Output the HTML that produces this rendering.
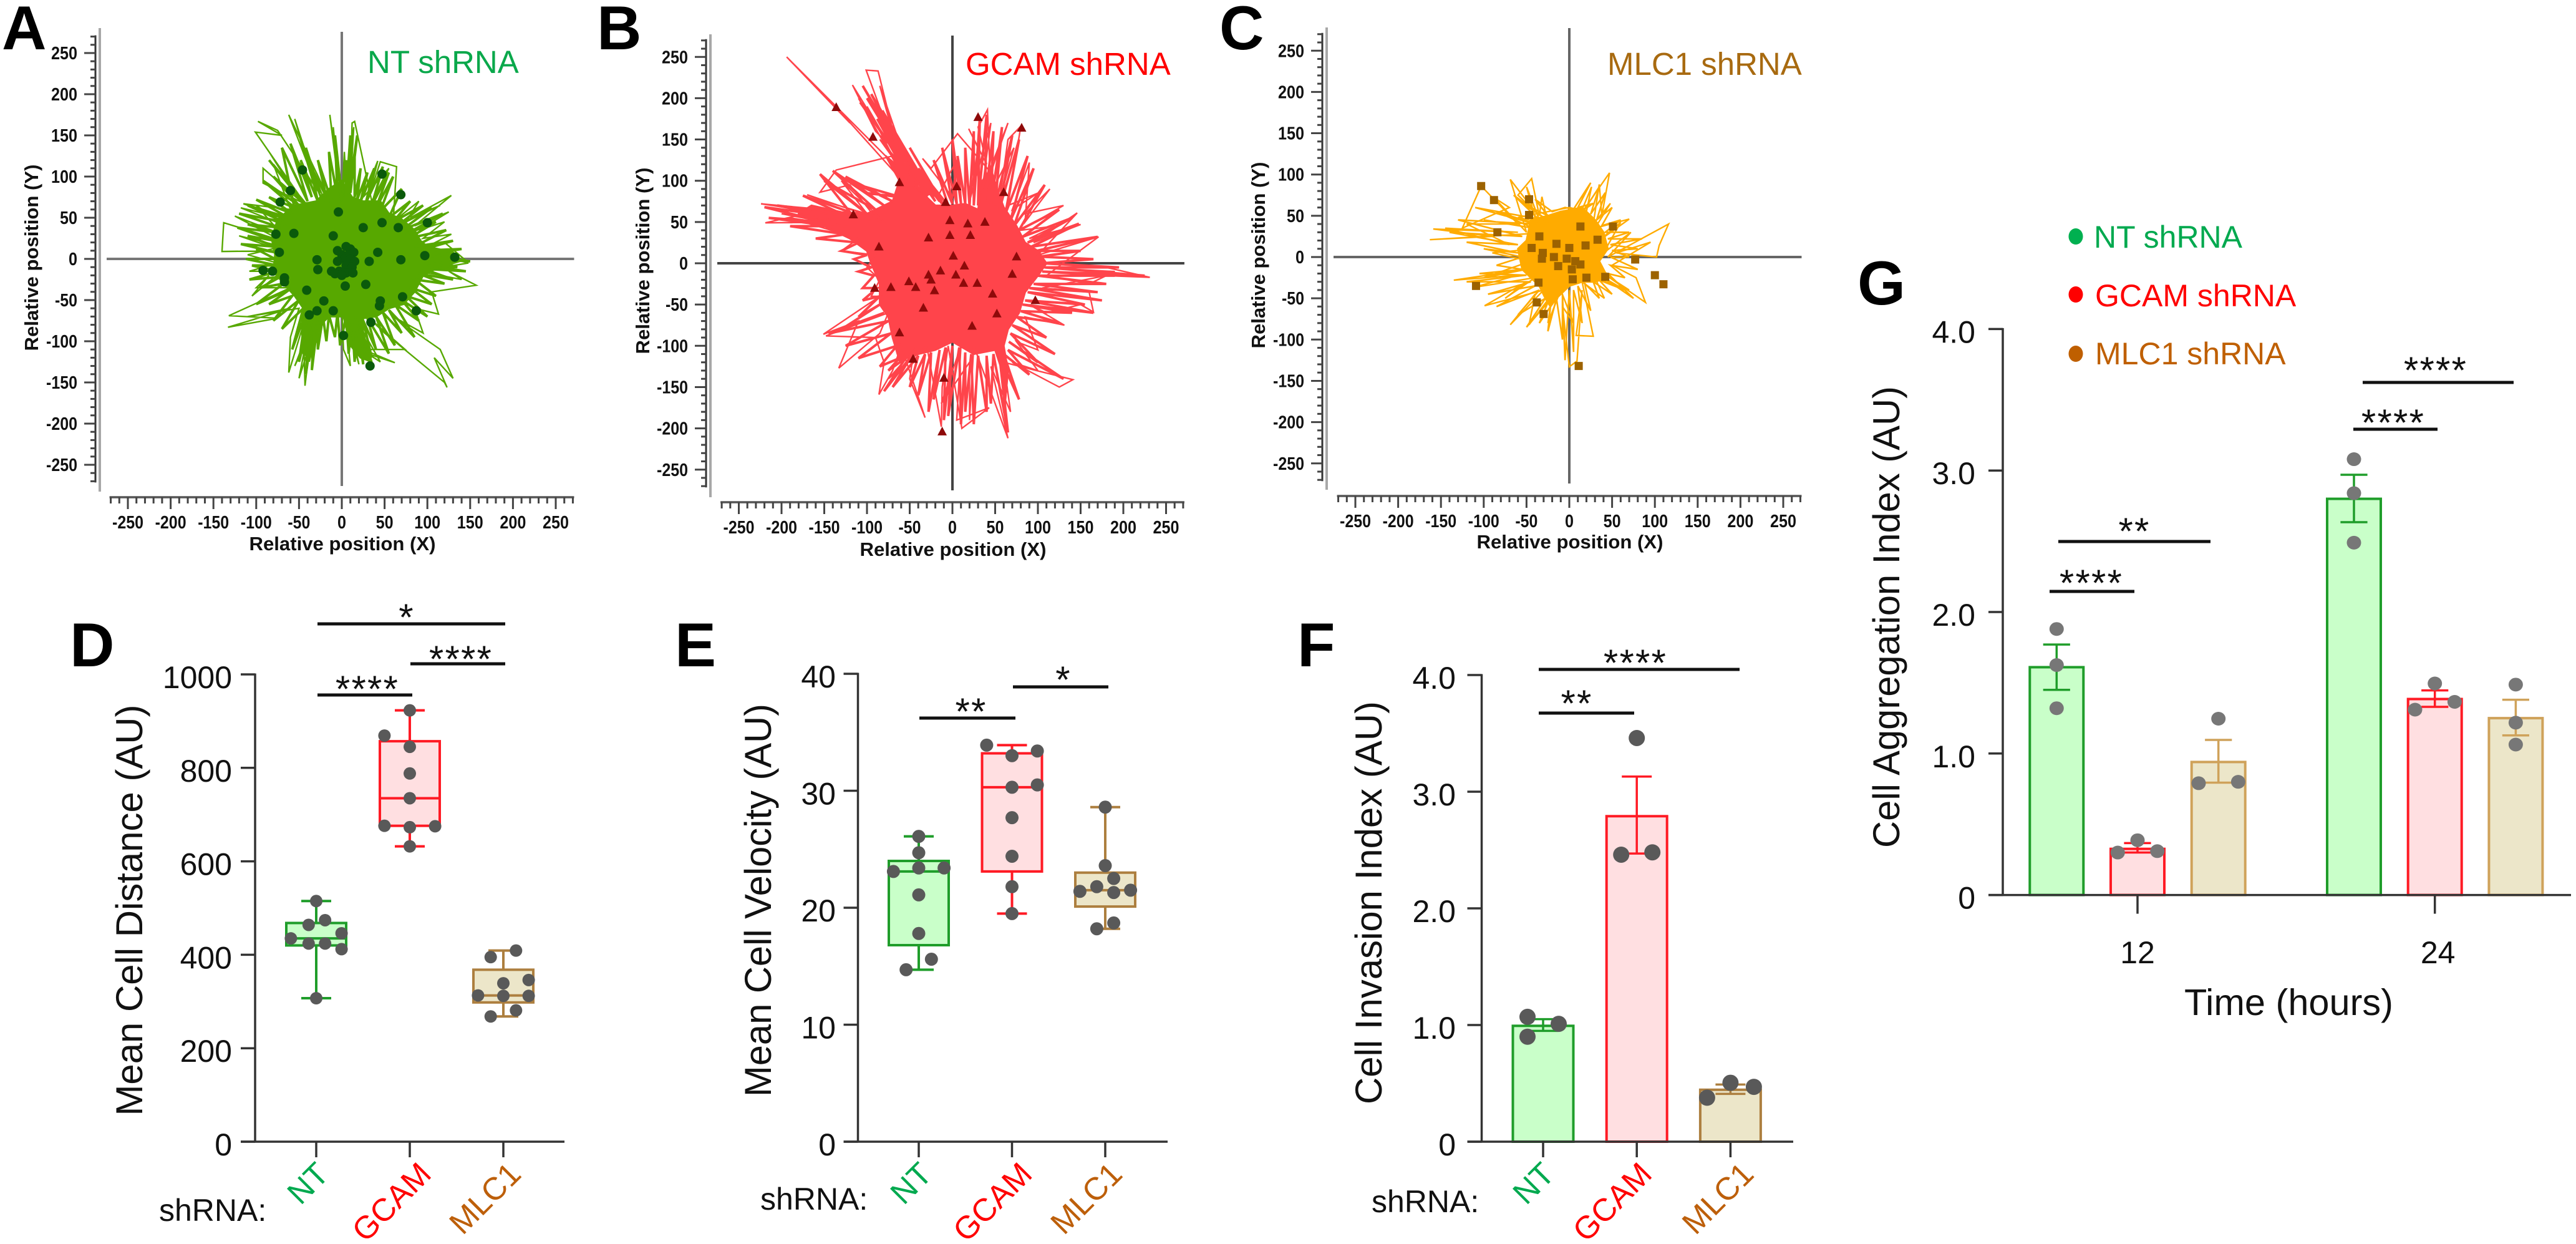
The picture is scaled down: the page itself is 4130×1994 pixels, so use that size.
<!DOCTYPE html>
<html lang="en">
<head>
<meta charset="utf-8">
<title>shRNA cell migration panels</title>
<style>
html,body{margin:0;padding:0;background:#fff;}
svg{display:block;}
text{font-family:"Liberation Sans",Arial,sans-serif;fill:#111;}
.panel-letter{font-size:99px;font-weight:700;fill:#000;}
.sp-title{font-size:31px;font-weight:700;}
.sp-label{font-size:51px;}
.ax-title{font-size:60px;}
.sh{font-size:50px;}
</style>
</head>
<body>
<svg id="fig" xmlns="http://www.w3.org/2000/svg" width="4130" height="1994" viewBox="0 0 4130 1994">
<rect x="0" y="0" width="4130" height="1994" fill="#fff"/>
<text class="panel-letter" x="3" y="79">A</text>
<text class="panel-letter" x="957" y="79">B</text>
<text class="panel-letter" x="1955" y="79">C</text>
<text class="panel-letter" x="112" y="1068">D</text>
<text class="panel-letter" x="1082" y="1068">E</text>
<text class="panel-letter" x="2080" y="1068">F</text>
<text class="panel-letter" x="2978" y="488">G</text>

<g id="layer"></g>

<text class="sp-label" x="589" y="117" style="fill:#0aa84b">NT shRNA</text>
<text class="sp-label" x="1548" y="120" style="fill:#ff0000">GCAM shRNA</text>
<text class="sp-label" x="2577" y="120" style="fill:#a86a10">MLC1 shRNA</text>

<text class="sp-title" x="549" y="882" text-anchor="middle" textLength="299" lengthAdjust="spacingAndGlyphs">Relative position (X)</text>
<text class="sp-title" x="1528" y="891" text-anchor="middle" textLength="299" lengthAdjust="spacingAndGlyphs">Relative position (X)</text>
<text class="sp-title" x="2517" y="879" text-anchor="middle" textLength="299" lengthAdjust="spacingAndGlyphs">Relative position (X)</text>
<text class="sp-title" transform="translate(61,413) rotate(-90)" text-anchor="middle" textLength="299" lengthAdjust="spacingAndGlyphs">Relative position (Y)</text>
<text class="sp-title" transform="translate(1041,418) rotate(-90)" text-anchor="middle" textLength="299" lengthAdjust="spacingAndGlyphs">Relative position (Y)</text>
<text class="sp-title" transform="translate(2028,409) rotate(-90)" text-anchor="middle" textLength="299" lengthAdjust="spacingAndGlyphs">Relative position (Y)</text>

<text class="ax-title" transform="translate(228,1459) rotate(-90)" text-anchor="middle" textLength="659" lengthAdjust="spacingAndGlyphs">Mean Cell Distance (AU)</text>
<text class="ax-title" transform="translate(1236,1443) rotate(-90)" text-anchor="middle" textLength="630" lengthAdjust="spacingAndGlyphs">Mean Cell Velocity (AU)</text>
<text class="ax-title" transform="translate(2215,1447) rotate(-90)" text-anchor="middle" textLength="646" lengthAdjust="spacingAndGlyphs">Cell Invasion Index (AU)</text>
<text class="ax-title" transform="translate(3045,989) rotate(-90)" text-anchor="middle" textLength="740" lengthAdjust="spacingAndGlyphs">Cell Aggregation Index (AU)</text>
<text class="ax-title" x="3502" y="1627" textLength="335" lengthAdjust="spacingAndGlyphs" style="font-size:59px">Time (hours)</text>

<text class="sh" x="255" y="1957">shRNA:</text>
<text class="sh" x="1219" y="1939">shRNA:</text>
<text class="sh" x="2199" y="1943">shRNA:</text>

<g>
<ellipse cx="3328" cy="379" rx="11.5" ry="13" fill="#00b050"/>
<text x="3357" y="397" style="font-size:50px;fill:#00a94f">NT shRNA</text>
<ellipse cx="3328" cy="472" rx="11.5" ry="13" fill="#ff0000"/>
<text x="3359" y="491" style="font-size:50px;fill:#ff0000">GCAM shRNA</text>
<ellipse cx="3328" cy="567" rx="11.5" ry="13" fill="#bf5f00"/>
<text x="3359" y="584" style="font-size:50px;fill:#bf5f00">MLC1 shRNA</text>
</g>
</svg>

<script>
/* ---------- Spider plot data (relative position units) ---------- */
const spiderTicks = [-250,-200,-150,-100,-50,0,50,100,150,200,250];
const spiderMinorTicks = [-270,-260,-240,-230,-220,-210,-190,-180,-170,-160,-140,-130,-120,-110,-90,-80,-70,-60,-40,-30,-20,-10,10,20,30,40,60,70,80,90,110,120,130,140,160,170,180,190,210,220,230,240,260,270];

const ntCore = [[0,95],[12,75],[25,70],[45,70],[55,55],[70,48],[85,35],[92,22],[100,15],[130,8],[140,-2],[110,-12],[95,-20],[85,-40],[72,-55],[55,-60],[40,-70],[25,-72],[25,-90],[35,-125],[22,-120],[10,-105],[2,-70],[-15,-70],[-25,-80],[-30,-100],[-38,-120],[-45,-115],[-47,-80],[-45,-60],[-55,-45],[-68,-30],[-80,-15],[-78,5],[-82,25],[-75,48],[-55,65],[-30,70],[-15,85]];
const ntTrack = [[0,40],[-62,175],[-25,75],[-55,170],[-30,80],[-50,150],[-20,70],[-75,156],[-98,167],[-70,150],[-101,154],[-45,70],[-95,145],[-40,62],[-85,130],[-50,72],[-92,110],[-92,92],[-40,65],[-80,115],[-60,60],[-115,67],[-70,50],[-118,62],[-65,40],[-100,65],[-70,30],[-125,52],[-70,22],[-138,44],[-140,9],[-70,10],[-120,28],[-70,15],[-110,5],[-75,-5],[-108,-15],[-70,-15],[-105,-45],[-85,-20],[-100,-35],[-60,-35],[-132,-69],[-75,-72],[-133,-83],[-60,-60],[-110,-70],[-50,-60],[-60,-95],[-62,-138],[-45,-80],[-43,-154],[-35,-85],[-55,-130],[-40,-90],[-50,-145],[-30,-80],[-38,-125],[-25,-70],[0,-60],[2,-110],[10,-130],[5,-75],[20,-128],[10,-80],[35,-130],[15,-70],[45,-125],[30,-115],[62,-126],[25,-110],[74,-110],[30,-70],[50,-90],[120,-150],[123,-156],[108,-120],[130,-145],[115,-110],[60,-70],[95,-90],[85,-60],[113,-67],[105,-40],[157,-32],[125,-15],[140,-25],[90,-15],[148,-5],[110,5],[145,-2],[120,20],[100,15],[128,30],[95,25],[120,45],[90,35],[125,57],[85,40],[128,77],[80,50],[115,65],[75,45],[90,70],[60,45],[64,112],[45,118],[30,70],[42,119],[25,75],[55,110],[35,70],[15,167],[12,165],[10,90],[14,160],[5,90],[3,130],[0,70],[-14,175],[-5,100],[-10,160],[0,60]];
const ntTrackDense = [[-55,60],[-70,135],[-40,70],[-60,140],[-35,75],[-48,120],[-28,70],[-42,135],[-25,80],[-35,110],[-18,75],[-28,120],[-12,70],[-15,130],[-5,75],[-8,150],[0,75],[5,120],[5,75],[10,150],[8,80],[18,150],[10,80],[15,125],[15,75],[22,110],[18,72],[30,105],[22,70],[38,110],[28,68],[48,112],[35,65],[55,105],[40,62],[60,100],[45,58],[70,85],[55,50],[80,70],[60,45],[95,65],[65,40],[105,62],[70,35],[118,55],[75,30],[110,45],[78,25],[122,35],[85,15],[130,22],[90,10],[140,12],[95,5],[150,-3],[100,0],[135,-10],[100,-8],[145,-15],[95,-12],[130,-25],[90,-18],[120,-30],[85,-25],[110,-45],[80,-35],[105,-55],[75,-45],[100,-70],[70,-50],[90,-75],[62,-55],[85,-95],[55,-62],[70,-90],[48,-65],[62,-105],[40,-70],[55,-115],[30,-72],[40,-110],[25,-75],[35,-120],[22,-85],[25,-128],[18,-80],[15,-125],[12,-75],[8,-115],[5,-70],[-2,-105],[-5,-65],[-8,-95],[-15,-68],[-18,-100],[-22,-70],[-28,-110],[-28,-75],[-35,-135],[-32,-70],[-42,-140],[-38,-75],[-50,-125],[-42,-65],[-58,-110],[-45,-60],[-70,-85],[-50,-50],[-80,-75],[-58,-45],[-85,-55],[-62,-38],[-100,-55],[-68,-30],[-95,-35],[-72,-22],[-108,-25],[-75,-15],[-105,-8],[-75,-8],[-112,0],[-78,0],[-100,12],[-78,8],[-118,18],[-78,15],[-110,28],[-78,22],[-122,38],[-75,32],[-110,42],[-72,38],[-120,55],[-68,45],[-110,65],[-62,50],[-100,72],[-58,55],[-85,75],[-55,62],[-92,95],[-50,65],[-80,100],[-45,68],[-85,120]];
const ntEnds = [[-46,108],[47,103],[69,78],[-60,83],[-72,69],[-4,57],[100,44],[47,44],[66,38],[25,38],[-77,30],[-56,31],[-10,28],[-73,8],[42,8],[97,4],[132,2],[69,-1],[-29,-1],[32,-3],[-92,-14],[-81,-15],[-28,-13],[-67,-23],[-67,-28],[28,-31],[-41,-38],[4,-33],[71,-46],[45,-51],[-21,-51],[-38,-68],[-29,-63],[-10,-63],[34,-77],[87,-63],[2,-93],[33,-130],[44,-57],[5,15],[10,12],[-5,10],[0,5],[8,5],[14,8],[3,0],[10,0],[-5,-3],[15,-3],[5,-8],[12,-10],[-12,-15],[-3,-15],[5,-17],[13,-17],[-8,-18],[0,-20]];

const gcamCore = [[-40,90],[-20,70],[0,70],[15,72],[30,65],[35,100],[45,115],[52,90],[60,68],[75,45],[85,25],[100,15],[110,0],[100,-15],[85,-35],[78,-60],[65,-80],[60,-100],[65,-130],[62,-165],[58,-130],[50,-105],[25,-110],[0,-95],[-20,-105],[-40,-110],[-62,-118],[-70,-90],[-75,-65],[-85,-50],[-85,-25],[-95,0],[-100,15],[-120,30],[-150,45],[-180,60],[-165,70],[-130,62],[-100,60],[-70,75],[-62,100],[-78,130],[-55,110]];
const gcamTrack = [[-30,80],[-194,250],[-120,170],[-136,189],[-50,90],[-101,234],[-87,233],[-60,120],[-85,215],[-45,95],[-117,216],[-90,160],[-70,140],[-110,200],[-55,100],[-100,190],[-50,100],[-95,170],[-40,85],[-85,150],[-35,90],[-80,170],[-30,80],[-70,130],[-136,113],[-155,86],[-120,95],[-90,55],[-170,83],[-150,75],[-100,60],[-130,100],[-80,50],[-224,72],[-150,65],[-219,49],[-120,50],[-200,60],[-100,40],[-190,55],[-110,30],[-130,15],[-90,10],[-100,-5],[-85,-20],[-95,-40],[-85,-40],[-151,-86],[-110,-70],[-133,-127],[-85,-85],[-75,-60],[-148,-88],[-90,-90],[-80,-120],[-86,-159],[-70,-130],[-60,-100],[-32,-187],[-50,-140],[-45,-105],[-75,-140],[-30,-100],[-13,-198],[-12,-150],[-5,-100],[11,-200],[43,-175],[5,-190],[10,-100],[-13,-170],[20,-120],[20,-190],[25,-100],[65,-212],[45,-125],[68,-180],[60,-120],[141,-141],[125,-150],[70,-120],[100,-130],[75,-95],[100,-105],[85,-65],[131,-75],[90,-50],[110,-60],[150,-50],[165,-59],[160,-35],[105,-30],[180,-15],[231,-17],[180,-5],[100,-5],[190,-10],[160,-25],[110,-15],[171,32],[100,10],[146,61],[95,25],[150,47],[90,30],[120,45],[80,40],[130,70],[85,60],[114,90],[85,50],[90,122],[70,65],[100,85],[65,70],[80,166],[65,150],[55,75],[72,140],[45,85],[41,186],[30,165],[40,120],[19,163],[30,140],[20,75],[45,170],[35,90],[65,170],[45,110],[6,157],[-25,115],[-35,127],[0,80],[5,125],[-15,85],[-40,95]];
const gcamTrackDense = [[-30,85],[-105,215],[-35,90],[-100,200],[-28,88],[-95,205],[-40,95],[-108,195],[-32,85],[-90,190],[-45,95],[-88,175],[-28,82],[-82,185],[-25,85],[-78,160],[-40,90],[-75,170],[-30,80],[-70,150],[-22,80],[-66,155],[-20,75],[-60,135],[-15,75],[-55,130],[-12,72],[-50,140],[-10,70],[-40,115],[-5,70],[-22,125],[0,72],[-12,140],[5,72],[0,150],[10,72],[6,130],[15,72],[15,140],[20,70],[25,160],[25,70],[32,175],[30,70],[40,180],[38,75],[48,160],[45,70],[58,165],[50,70],[70,155],[55,65],[78,150],[62,60],[88,130],[68,52],[95,115],[72,45],[108,95],[78,40],[125,65],[82,32],[140,55],[88,25],[148,48],[92,20],[170,32],[98,15],[150,15],[102,8],[165,5],[105,0],[195,-5],[108,-5],[225,-15],[105,-10],[190,-15],[100,-15],[180,-25],[95,-25],[170,-35],[90,-30],[175,-45],[88,-35],[155,-50],[85,-45],[165,-60],[82,-50],[140,-60],[80,-58],[125,-72],[75,-65],[110,-90],[70,-75],[120,-110],[68,-85],[100,-120],[66,-95],[130,-140],[65,-105],[90,-135],[60,-110],[78,-165],[55,-112],[65,-205],[48,-110],[45,-170],[40,-112],[40,-180],[30,-112],[25,-195],[22,-110],[15,-180],[15,-108],[10,-195],[8,-102],[-5,-185],[0,-100],[-10,-190],[-8,-102],[-22,-165],[-15,-105],[-28,-180],[-25,-108],[-40,-160],[-32,-110],[-50,-150],[-40,-112],[-70,-150],[-48,-112],[-80,-155],[-55,-115],[-75,-130],[-62,-115],[-85,-125],[-65,-100],[-110,-115],[-72,-85],[-125,-100],[-75,-70],[-145,-85],[-80,-60],[-130,-80],[-85,-50],[-110,-65],[-85,-40],[-105,-45],[-88,-30],[-105,-30],[-92,-15],[-110,-10],[-95,-5],[-115,5],[-100,10],[-130,15],[-110,25],[-160,30],[-125,35],[-190,45],[-140,45],[-215,55],[-150,50],[-220,68],[-150,58],[-205,70],[-130,60],[-175,82],[-120,62],[-155,108],[-100,60],[-150,100],[-90,65],[-140,112],[-80,70],[-125,105],[-70,75],[-110,95],[-60,80],[-100,85]];
const gcamEnds = [[-136,189],[-93,153],[30,177],[81,164],[-62,98],[5,93],[60,86],[-8,74],[-116,59],[-3,52],[18,48],[38,50],[-28,31],[-3,34],[21,34],[-86,20],[1,9],[75,8],[-14,-9],[14,-3],[-28,-14],[70,-13],[4,-14],[-25,-20],[-51,-22],[13,-24],[29,-24],[-43,-29],[-21,-33],[-91,-30],[-72,-29],[47,-37],[97,-45],[-34,-54],[52,-61],[23,-76],[-62,-84],[-46,-116],[-10,-139],[-12,-204]];

const mlcCore = [[-10,55],[15,60],[30,45],[40,30],[45,10],[35,-5],[45,-25],[30,-30],[15,-30],[0,-35],[-15,-50],[-22,-60],[-28,-50],[-35,-35],[-55,-15],[-60,10],[-50,20],[-45,45],[-25,50]];
const mlcTrack = [[-20,30],[-163,21],[-90,25],[-159,34],[-60,30],[-145,35],[-70,15],[-120,40],[-60,40],[-103,86],[-125,35],[-70,60],[-88,72],[-50,30],[-69,94],[-40,55],[-60,75],[-44,95],[-35,50],[-32,73],[-25,40],[-60,48],[0,60],[20,55],[26,85],[12,50],[47,102],[38,50],[35,88],[28,40],[48,65],[30,35],[70,46],[35,20],[60,42],[40,5],[72,30],[45,0],[116,40],[105,14],[102,0],[55,5],[95,18],[50,-10],[78,-25],[89,-55],[40,-20],[70,-40],[30,-25],[41,-50],[15,-30],[28,-96],[8,-95],[15,-40],[9,-126],[0,-133],[-8,-60],[5,-80],[-10,-40],[-25,-80],[-20,-45],[-47,-82],[-40,-45],[-69,-82],[-30,-40],[-99,-59],[-50,-30],[-75,-50],[-40,-25],[-113,-37],[-60,-22],[-135,-28],[-50,-15],[-100,-25],[-45,-5],[-90,5],[-40,10]];
const mlcTrackDense = [[-30,45],[-110,60],[-40,40],[-130,45],[-55,25],[-140,30],[-60,15],[-120,18],[-60,5],[-100,10],[-55,0],[-85,-10],[-55,-15],[-105,-20],[-50,-22],[-120,-30],[-45,-30],[-95,-45],[-40,-35],[-85,-60],[-35,-40],[-60,-70],[-28,-50],[-50,-85],[-25,-55],[-35,-80],[-22,-60],[-25,-90],[-15,-50],[-8,-100],[-8,-45],[-5,-125],[0,-40],[5,-115],[5,-40],[15,-80],[10,-35],[25,-65],[18,-32],[35,-50],[28,-30],[50,-45],[35,-28],[65,-40],[40,-25],[75,-50],[45,-20],[65,-25],[48,-10],[80,-15],[48,0],[70,0],[50,8],[80,10],[48,15],[85,22],[45,22],[70,30],[42,30],[60,45],[38,38],[50,60],[32,45],[42,78],[25,52],[35,85],[18,58],[28,65],[10,60],[25,90],[5,58],[-5,60],[-20,55],[-40,70],[-25,50],[-55,65],[-30,48],[-65,75],[-35,45],[-50,85],[-38,40],[-85,55],[-42,35],[-100,45]];
const mlcEnds = [[-103,86],[-88,69],[-47,70],[-47,51],[-84,30],[13,37],[51,37],[-35,25],[33,21],[19,14],[-44,11],[0,11],[-15,16],[-31,5],[77,-3],[-32,-2],[-18,0],[-3,-2],[7,-5],[-13,-11],[13,-9],[3,-15],[100,-22],[110,-33],[20,-25],[4,-27],[42,-24],[-36,-31],[-109,-35],[-38,-55],[-30,-69],[11,-132]];

/* ---------- Panel D: Mean Cell Distance ---------- */
const dTicks = [0,200,400,600,800,1000];
const dCategories = ['NT','GCAM','MLC1'];
const dStatsNT = [307,420,435,468,515];
const dStatsGCAM = [632,676,735,857,923];
const dStatsMLC = [268,298,313,368,409];
const dValuesNT = [515,474,464,446,435,424,424,412,307];
const dValuesGCAM = [923,869,845,788,735,676,673,675,632];
const dValuesMLC = [409,395,346,339,313,312,312,281,268];
const dSlotsNT = [0,.7,-.6,2,-2,-.6,.7,2,0];
const dSlotsGCAM = [0,-2,0,0,0,-2,0,2,0];
const dSlotsMLC = [1,-1,2,0,-2,0,2,1,-1];

/* ---------- Panel E: Mean Cell Velocity ---------- */
const eTicks = [0,10,20,30,40];
const eCategories = ['NT','GCAM','MLC1'];
const eStatsNT = [14.7,16.8,23.1,24.0,26.1];
const eStatsGCAM = [19.5,23.1,30.3,33.2,33.9];
const eStatsMLC = [18.2,20.1,21.5,23.0,28.6];
const eValuesNT = [26.1,24.7,23.1,23.4,23.4,21.1,17.8,15.6,14.7];
const eValuesGCAM = [33.9,33.4,33.0,30.3,30.5,27.7,24.4,21.8,19.5];
const eValuesMLC = [28.6,23.6,22.5,21.4,21.8,21.3,21.5,18.7,18.2];
const eSlotsNT = [0,0,-2,0,2,0,0,1,-1];
const eSlotsGCAM = [-2,2,0,0,2,0,0,0,0];
const eSlotsMLC = [0,0,.67,-2,-.67,.67,2,.67,-.67];

/* ---------- Panel F: Cell Invasion Index ---------- */
const fTicks = [0,1,2,3,4];
const fTickLabels = ['0','1.0','2.0','3.0','4.0'];
const fCategories = ['NT','GCAM','MLC1'];
const fMeans = [0.993,2.79,0.445];
const fErrLow = [0.95,2.47,0.41];
const fErrHigh = [1.05,3.13,0.49];
const fValuesNT = [1.07,1.01,0.90];
const fValuesGCAM = [3.46,2.46,2.48];
const fValuesMLC = [0.505,0.377,0.47];
const fSlotsNT = [-1,1,-1];
const fSlotsGCAM = [0,-1,1];
const fSlotsMLC = [0,-1.5,1.5];

/* ---------- Panel G: Cell Aggregation Index ---------- */
const gTicks = [0,1,2,3,4];
const gTickLabels = ['0','1.0','2.0','3.0','4.0'];
const gTimes = ['12','24'];
const gMeans12 = [1.61,0.326,0.94];
const gMeans24 = [2.80,1.385,1.25];
const gErrLow12 = [1.45,0.30,0.794];
const gErrHigh12 = [1.77,0.367,1.096];
const gErrLow24 = [2.635,1.33,1.128];
const gErrHigh24 = [2.97,1.446,1.38];
const gPoints12NT = [1.88,1.625,1.32];
const gPoints12GCAM = [0.387,0.30,0.31];
const gPoints12MLC = [1.246,0.79,0.80];
const gPoints24NT = [3.08,2.84,2.49];
const gPoints24GCAM = [1.495,1.365,1.31];
const gPoints24MLC = [1.487,1.218,1.063];
const gSlots12NT = [0,0,0];
const gSlots12GCAM = [0,-1,1];
const gSlots12MLC = [0,-1,1];
const gSlots24NT = [0,0,0];
const gSlots24GCAM = [0,1,-1];
const gSlots24MLC = [0,0,0];

/* ---------- Drawing helpers ---------- */
const SVGNS = 'http://www.w3.org/2000/svg';
const layer = document.getElementById('layer');
function mk(tag, attrs, parent){
  const n = document.createElementNS(SVGNS, tag);
  for (const k in attrs) n.setAttribute(k, attrs[k]);
  (parent || layer).appendChild(n);
  return n;
}
function line(x1,y1,x2,y2,stroke,w,parent){
  const el = mk('line',{x1,y1,x2,y2,stroke,'stroke-width':w},parent);
  return el;
}
const COL = {
  NT:{fill:'#c9ffc9',stroke:'#1f9d2a',label:'#00a94f'},
  GCAM:{fill:'#ffdfe1',stroke:'#ff1a24',label:'#ff0000'},
  MLC1:{fill:'#ece6c9',stroke:'#ad7f3f',label:'#bd5f0a'}
};

function drawSpider(cfg){
  const g = mk('g',{});
  
  
  const xs = v => cfg.x0 + v*cfg.ux;
  const ys = v => cfg.y0 - v*cfg.uy;

  const yLine = line(cfg.axisX, cfg.axisTop, cfg.axisX, cfg.axisBottom, '#a8a8a8', 4, g);
  
  
  const ySpine = line(cfg.axisX-7, ys(270)-2, cfg.axisX-7, ys(-270)+2, '#333', 3, g);
  
  
  const xSpine = line(xs(-270)-2, cfg.spineY, xs(270)+2, cfg.spineY, '#555', 3.5, g);
  
  

  spiderMinorTicks.forEach(t => {
    const a = line(cfg.axisX-15, ys(t), cfg.axisX-7, ys(t), '#444', 3, g);
    
    
    const b = line(xs(t), cfg.spineY, xs(t), cfg.spineY+10, '#444', 3, g);
    
    
  });
  spiderTicks.forEach(t => {
    const a = line(cfg.axisX-25, ys(t), cfg.axisX-7, ys(t), '#444', 3, g);
    
    
    const b = line(xs(t), cfg.spineY, xs(t), cfg.spineY+19, '#444', 3, g);
    
    
    const s = String(t);
    const w = (t<0 ? 8 : 0) + (s.replace('-','').length*14);
    const yl = mk('text',{x:cfg.axisX-36, y:ys(t)+10, 'text-anchor':'end', 'font-size':29, 'font-weight':700, textLength:w, lengthAdjust:'spacingAndGlyphs'}, g);
    yl.textContent = s;
    
    
    const xl = mk('text',{x:xs(t), y:cfg.spineY+50, 'text-anchor':'middle', 'font-size':29, 'font-weight':700, textLength:w, lengthAdjust:'spacingAndGlyphs'}, g);
    xl.textContent = s;
    
    
  });

  const h = line(cfg.axisX+11, cfg.y0, xs(270)+2, cfg.y0, cfg.cross, 4, g);
  
  
  const v = line(cfg.x0, cfg.crossTop, cfg.x0, cfg.crossBottom, cfg.cross, 4, g);
  
  

  const core = mk('polygon',{points:cfg.core.map(p=>xs(p[0])+','+ys(p[1])).join(' '), fill:cfg.color, stroke:cfg.color, 'stroke-width':3, 'stroke-linejoin':'round'}, g);
  
  
  const dense = mk('polyline',{points:cfg.dense.map(p=>xs(p[0])+','+ys(p[1])).join(' '), fill:'none', stroke:cfg.color, 'stroke-width':cfg.denseWidth, 'stroke-linejoin':'miter'}, g);
  
  
  const track = mk('polyline',{points:cfg.track.map(p=>xs(p[0])+','+ys(p[1])).join(' '), fill:'none', stroke:cfg.color, 'stroke-width':2.4, 'stroke-linejoin':'miter'}, g);
  
  

  cfg.ends.forEach(p => {
    const cx = xs(p[0]), cy = ys(p[1]);
    let m;
    if (cfg.marker === 'circle') m = mk('circle',{cx,cy,r:7.5,fill:cfg.mark}, g);
    else if (cfg.marker === 'tri') m = mk('polygon',{points:(cx)+','+(cy-8)+' '+(cx-7.5)+','+(cy+6)+' '+(cx+7.5)+','+(cy+6),fill:cfg.mark}, g);
    else m = mk('rect',{x:cx-6.5,y:cy-6.5,width:13,height:13,fill:cfg.mark}, g);
    
    
  });
}

function catLabel(g, x, y, text, color){
  const t = mk('text',{transform:'translate('+x+','+y+') rotate(-45)','text-anchor':'end','font-size':51,style:'fill:'+color}, g);
  t.textContent = text;
  
  
}
function sigBar(g, x1, x2, y, stars, cx, cy){
  const b = line(x1, y, x2, y, '#111', 5, g);
  
  
  const s = mk('text',{x:cx, y:cy+35, 'text-anchor':'middle','font-size':60,'letter-spacing':2.2}, g);
  s.textContent = stars;
  
  
}
function drawAxes(g, cfg){
  const ya = line(cfg.axisX, cfg.ys(cfg.ticks[cfg.ticks.length-1])-1.5, cfg.axisX, cfg.y0+1.5, '#333', 3.5, g);
  
  
  const xa = line(cfg.axisX-23, cfg.y0, cfg.axisEnd, cfg.y0, '#333', 3.5, g);
  
  
  cfg.ticks.forEach((t,i) => {
    const tk = line(cfg.axisX-23, cfg.ys(t), cfg.axisX, cfg.ys(t), '#333', 3.5, g);
    
    
    const l = mk('text',{x:cfg.labelEnd, y:cfg.ys(t)+22, 'text-anchor':'end','font-size':50}, g);
    l.textContent = cfg.tickLabels ? cfg.tickLabels[i] : String(t);
    
    
  });
}
function dots(g, cx, slotW, values, slots, ys, r, color){
  values.forEach((v,i) => {
    const d = mk('circle',{cx:cx+slots[i]*slotW, cy:ys(v), r, fill:color}, g);
    
    
  });
}
function drawBox(g, cx, stats, col, ys){
  const lo=stats[0], q1=stats[1], med=stats[2], q3=stats[3], hi=stats[4];
  const wh = line(cx, ys(lo), cx, ys(hi), col.stroke, 4, g);
  
  
  const c1 = line(cx-24, ys(lo), cx+24, ys(lo), col.stroke, 4, g);
  
  
  const c2 = line(cx-24, ys(hi), cx+24, ys(hi), col.stroke, 4, g);
  
  
  const b = mk('rect',{x:cx-48, y:ys(q3), width:96, height:ys(q1)-ys(q3), fill:col.fill, stroke:col.stroke, 'stroke-width':4}, g);
  
  
  const m = line(cx-48, ys(med), cx+48, ys(med), col.stroke, 4, g);
  
  
}
function drawBar(g, cx, width, mean, low, high, col, y0, ys, cap){
  const b = mk('rect',{x:cx-width/2, y:ys(mean), width, height:y0-ys(mean), fill:col.fill, stroke:col.stroke, 'stroke-width':4}, g);
  
  
  const e = line(cx, ys(low), cx, ys(high), col.stroke, 3.5, g);
  
  
  const c1 = line(cx-cap, ys(low), cx+cap, ys(low), col.stroke, 3.5, g);
  
  
  const c2 = line(cx-cap, ys(high), cx+cap, ys(high), col.stroke, 3.5, g);
  
  
}

/* ---------- Panels A, B, C ---------- */
drawSpider({name:'panel-a-spider-plot',x0:548,y0:415,ux:1.372,uy:1.32,axisX:160,axisTop:45,axisBottom:788,spineY:797,crossTop:51,crossBottom:779,cross:'#777',color:'#57a800',mark:'#0b5a0b',marker:'circle',core:ntCore,track:ntTrack,dense:ntTrackDense,denseWidth:4,ends:ntEnds});
drawSpider({name:'panel-b-spider-plot',x0:1527,y0:422,ux:1.37,uy:1.323,axisX:1139,axisTop:55,axisBottom:797,spineY:805,crossTop:57,crossBottom:786,cross:'#444',color:'#ff444b',mark:'#8e0a0a',marker:'tri',core:gcamCore,track:gcamTrack,dense:gcamTrackDense,denseWidth:4,ends:gcamEnds});
drawSpider({name:'panel-c-spider-plot',x0:2516,y0:412,ux:1.372,uy:1.323,axisX:2127,axisTop:44,axisBottom:785,spineY:795,crossTop:45,crossBottom:775,cross:'#666',color:'#ffab00',mark:'#9c6200',marker:'square',core:mlcCore,track:mlcTrack,dense:mlcTrackDense,denseWidth:2.6,ends:mlcEnds});

/* ---------- Panel D ---------- */
(function(){
  const g = mk('g',{});
  
  
  const y0 = 1830, unit = 0.749;
  const ys = v => y0 - v*unit;
  const xs = i => 507 + i*150;
  drawAxes(g,{axisX:409,axisEnd:905,y0,ys,ticks:dTicks,labelEnd:372});
  const stats=[dStatsNT,dStatsGCAM,dStatsMLC], vals=[dValuesNT,dValuesGCAM,dValuesMLC], slots=[dSlotsNT,dSlotsGCAM,dSlotsMLC];
  const labelDx=[23,37,31];
  dCategories.forEach((c,i) => {
    const tk = line(xs(i), y0, xs(i), y0+25, '#333', 3.5, g);
    
    
    drawBox(g, xs(i), stats[i], COL[c], ys);
    dots(g, xs(i), 20.3, vals[i], slots[i], ys, 10, '#595959');
    catLabel(g, xs(i)+labelDx[i], 1885, c, COL[c].label);
  });
  sigBar(g,509,810,1000,'*',652,975);
  sigBar(g,658,810,1064,'****',739,1042);
  sigBar(g,509,661,1114,'****',589,1090);
})();

/* ---------- Panel E ---------- */
(function(){
  const g = mk('g',{});
  
  
  const y0 = 1830, unit = 18.75;
  const ys = v => y0 - v*unit;
  const xs = i => 1473 + i*149.5;
  drawAxes(g,{axisX:1375.5,axisEnd:1872,y0,ys,ticks:eTicks,labelEnd:1340});
  const stats=[eStatsNT,eStatsGCAM,eStatsMLC], vals=[eValuesNT,eValuesGCAM,eValuesMLC], slots=[eSlotsNT,eSlotsGCAM,eSlotsMLC];
  const labelDx=[24,35,30];
  eCategories.forEach((c,i) => {
    const tk = line(xs(i), y0, xs(i), y0+25, '#333', 3.5, g);
    
    
    drawBox(g, xs(i), stats[i], COL[c], ys);
    dots(g, xs(i), 20.3, vals[i], slots[i], ys, 10.5, '#595959');
    catLabel(g, xs(i)+labelDx[i], 1885, c, COL[c].label);
  });
  sigBar(g,1474,1628,1151,'**',1557,1126);
  sigBar(g,1624,1777,1101,'*',1705,1075);
})();

/* ---------- Panel F ---------- */
(function(){
  const g = mk('g',{});
  
  
  const y0 = 1830, unit = 187;
  const ys = v => y0 - v*unit;
  const xs = i => 2474 + i*150.2;
  const vals=[fValuesNT,fValuesGCAM,fValuesMLC], slots=[fSlotsNT,fSlotsGCAM,fSlotsMLC];
  const labelDx=[21,27,40];
  fCategories.forEach((c,i) => {
    drawBar(g, xs(i), 97, fMeans[i], fErrLow[i], fErrHigh[i], COL[c], y0, ys, 24);
  });
  drawAxes(g,{axisX:2375.5,axisEnd:2875,y0,ys,ticks:fTicks,tickLabels:fTickLabels,labelEnd:2334});
  fCategories.forEach((c,i) => {
    const tk = line(xs(i), y0, xs(i), y0+25, '#333', 3.5, g);
    
    
    dots(g, xs(i), 25, vals[i], slots[i], ys, 13, '#595959');
    catLabel(g, xs(i)+labelDx[i], 1885, c, COL[c].label);
  });
  sigBar(g,2467,2789,1073,'****',2622,1048);
  sigBar(g,2467,2620,1143,'**',2528,1113);
})();

/* ---------- Panel G ---------- */
(function(){
  const g = mk('g',{});
  
  
  const y0 = 1434.6, unit = 226.8;
  const ys = v => y0 - v*unit;
  const groupX = i => 3427 + i*476.7;
  const colsG = [COL.NT, COL.GCAM, {fill:'#ece6c9',stroke:'#cfa25a',label:'#bd5f0a'}];
  const means=[gMeans12,gMeans24], lows=[gErrLow12,gErrLow24], highs=[gErrHigh12,gErrHigh24];
  const pts=[[gPoints12NT,gPoints12GCAM,gPoints12MLC],[gPoints24NT,gPoints24GCAM,gPoints24MLC]];
  const slt=[[gSlots12NT,gSlots12GCAM,gSlots12MLC],[gSlots24NT,gSlots24GCAM,gSlots24MLC]];
  gTimes.forEach((t,gi) => {
    [0,1,2].forEach(k => {
      drawBar(g, groupX(gi)+(k-1)*129.7, 86, means[gi][k], lows[gi][k], highs[gi][k], colsG[k], y0, ys, 21.6);
    });
  });
  drawAxes(g,{axisX:3211,axisEnd:4122,y0,ys,ticks:gTicks,tickLabels:gTickLabels,labelEnd:3167});
  gTimes.forEach((t,gi) => {
    const tk = line(groupX(gi), y0, groupX(gi), y0+30, '#333', 3.5, g);
    
    
    const l = mk('text',{x:groupX(gi)+(gi?5:0), y:1544, 'text-anchor':'middle','font-size':50}, g);
    l.textContent = t;
    
    
    [0,1,2].forEach(k => {
      pts[gi][k].forEach((v,i) => {
        const d = mk('ellipse',{cx:groupX(gi)+(k-1)*129.7+slt[gi][k][i]*31.7, cy:ys(v), rx:11.5, ry:11, fill:'#777'}, g);
        
        
      });
    });
  });
  sigBar(g,3788,4030,613,'****',3905,579);
  sigBar(g,3773,3908,688,'****',3837,663);
  sigBar(g,3300,3544,868,'**',3422,837);
  sigBar(g,3286,3422,948,'****',3353,920);
})();
</script>
</body>
</html>
